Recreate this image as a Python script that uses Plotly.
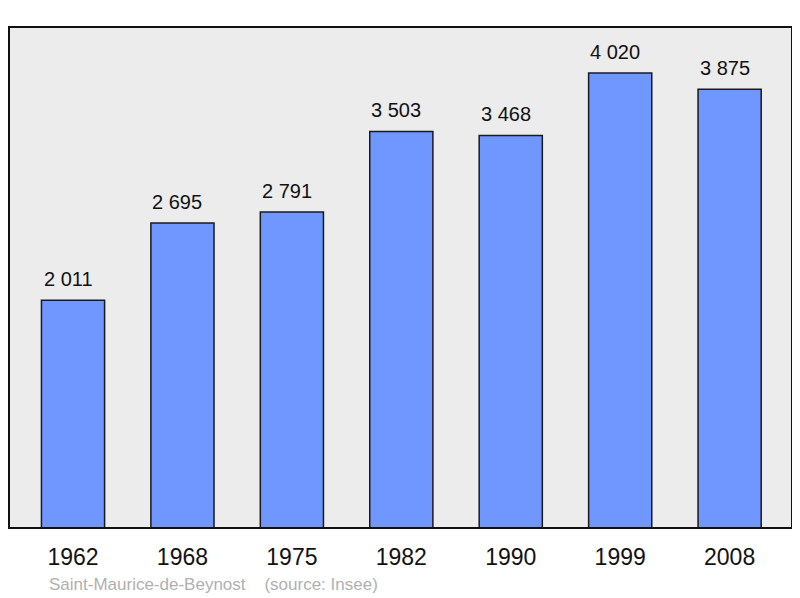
import plotly.graph_objects as go

years = ["1962", "1968", "1975", "1982", "1990", "1999", "2008"]
population = [2011, 2695, 2791, 3503, 3468, 4020, 3875]
source_text = "Saint-Maurice-de-Beynost    (source: Insee)"

xs = list(range(len(years)))
labels = [f"{v:,}".replace(",", " ") for v in population]

fig = go.Figure()
fig.add_trace(go.Bar(
    x=xs, y=population, width=0.577,
    marker=dict(color="#7096ff", line=dict(color="#1a1a1a", width=1.5)),
    hoverinfo="skip",
))
for x, v, t in zip(xs, population, labels):
    fig.add_annotation(x=x, y=v, text=t, showarrow=False, yanchor="bottom",
                       yshift=8, xshift=-5, font=dict(size=20, color="#111111"))

fig.add_annotation(xref="paper", yref="paper", x=(47 - 9) / 783, y=-(584 - 528) / 501,
                   xanchor="left", yanchor="middle", text=source_text.replace("  ", "&nbsp;&nbsp;"),
                   showarrow=False, font=dict(size=17, color="#b0b0b0"))

fig.add_shape(type="rect", xref="paper", yref="paper", x0=0, y0=0, x1=1, y1=1,
              line=dict(color="#111111", width=2), layer="above")

fig.update_layout(
    width=800, height=598,
    margin=dict(l=1, r=16, t=19, b=78),
    paper_bgcolor="white", plot_bgcolor="#ececec",
    font=dict(family="Liberation Sans, Arial, sans-serif", color="#111111"),
    showlegend=False,
    xaxis=dict(tickvals=xs, ticktext=years, range=[-0.585, 6.57],
               showgrid=False, zeroline=False, ticks="outside", ticklen=8,
               tickcolor="rgba(0,0,0,0)", tickfont=dict(size=23)),
    yaxis=dict(range=[0, 4426], showgrid=False, zeroline=False, showticklabels=False),
)

fig.write_html("out.html")
